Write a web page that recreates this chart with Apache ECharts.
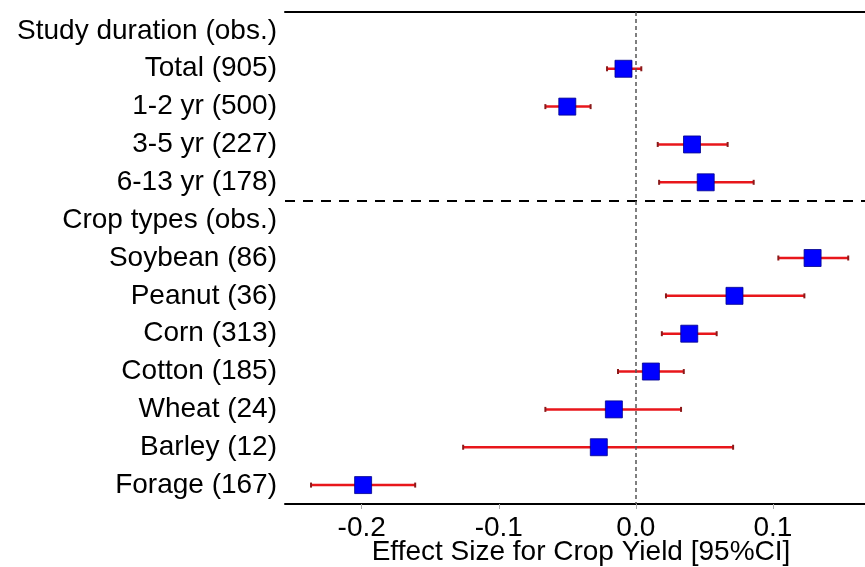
<!DOCTYPE html>
<html>
<head>
<meta charset="utf-8">
<script src="https://cdn.jsdelivr.net/npm/echarts@6/dist/echarts.min.js"></script>
<style>
  html, body { margin: 0; padding: 0; background: #fff; }
  #chart { width: 865px; height: 567px; }
</style>
</head>
<body>
<div id="chart"></div>
<script>
// rows top to bottom; header rows have no estimate
const labels = [
  'Study duration (obs.)', 'Total (905)', '1-2 yr (500)', '3-5 yr (227)', '6-13 yr (178)',
  'Crop types (obs.)', 'Soybean (86)', 'Peanut (36)', 'Corn (313)', 'Cotton (185)',
  'Wheat (24)', 'Barley (12)', 'Forage (167)'
]
const est = [null, -0.009, -0.050, 0.041, 0.051, null, 0.129, 0.072, 0.039, 0.011, -0.016, -0.027, -0.199]
const lo  = [null, -0.021, -0.066, 0.016, 0.017, null, 0.104, 0.022, 0.019, -0.013, -0.066, -0.126, -0.237]
const hi  = [null, 0.004, -0.033, 0.067, 0.086, null, 0.155, 0.123, 0.059, 0.035, 0.033, 0.071, -0.161]
const groupBreak = 5 // separator between the two groups

const font = 'Liberation Sans'

const ciData = []
const ptData = []
labels.forEach((l, i) => {
  if (est[i] === null) return
  ciData.push([lo[i], hi[i], i])
  ptData.push([est[i], i])
})

const chart = echarts.init(document.getElementById('chart'))

chart.setOption({
  animation: false,
  grid: { left: 285, right: -12, top: 12, height: 492, outerBoundsMode: 'none', containLabel: false },
  xAxis: [
    {
      type: 'value',
      min: -0.256,
      max: 0.176,
      splitLine: { show: false },
      axisLine: { show: true, onZero: false, lineStyle: { color: '#000', width: 2 } },
      axisTick: { show: true, length: 5, lineStyle: { color: '#aaa' } },
      axisLabel: {
        showMinLabel: false,
        showMaxLabel: false,
        margin: 10,
        color: '#000',
        fontFamily: font,
        fontSize: 28,
        formatter: v => v.toFixed(1)
      },
      name: 'Effect Size for Crop Yield [95%CI]',
      nameLocation: 'middle',
      nameMoveOverlap: false,
      nameGap: 34,
      nameTextStyle: { color: '#000', fontFamily: font, fontSize: 28 }
    },
    {
      type: 'value',
      position: 'top',
      min: -0.256,
      max: 0.176,
      splitLine: { show: false },
      axisLine: { show: true, onZero: false, lineStyle: { color: '#000', width: 2 } },
      axisTick: { show: false },
      axisLabel: { show: false }
    }
  ],
  yAxis: [
    {
      type: 'category',
      data: labels,
      inverse: true,
      axisLine: { show: false },
      axisTick: { show: false },
      splitLine: { show: false },
      axisLabel: { color: '#000', fontFamily: font, fontSize: 28, margin: 8 }
    },
    {
      type: 'value',
      min: 0,
      max: labels.length,
      inverse: true,
      show: false
    }
  ],
  series: [
    {
      // group separator
      type: 'line',
      yAxisIndex: 1,
      data: [],
      markLine: {
        silent: true,
        symbol: 'none',
        label: { show: false },
        lineStyle: { color: '#000', width: 2, type: [10, 8] },
        data: [{ yAxis: groupBreak }]
      }
    },
    {
      // 95% CI whiskers
      type: 'custom',
      data: ciData,
      encode: { x: [0, 1], y: 2 },
      z: 3,
      renderItem: (params, api) => {
        const a = api.coord([api.value(0), api.value(2)])
        const b = api.coord([api.value(1), api.value(2)])
        const cap = 2.5
        return {
          type: 'group',
          children: [
            {
              type: 'line',
              shape: { x1: a[0], y1: a[1], x2: b[0], y2: b[1] },
              style: { stroke: '#e8161b', lineWidth: 2.5 }
            },
            {
              type: 'line',
              shape: { x1: a[0], y1: a[1] - cap, x2: a[0], y2: a[1] + cap },
              style: { stroke: '#8b1a1a', lineWidth: 2 }
            },
            {
              type: 'line',
              shape: { x1: b[0], y1: b[1] - cap, x2: b[0], y2: b[1] + cap },
              style: { stroke: '#8b1a1a', lineWidth: 2 }
            }
          ]
        }
      }
    },
    {
      type: 'scatter',
      data: ptData,
      symbol: 'rect',
      symbolSize: 17,
      z: 4,
      itemStyle: { color: '#0000ff', borderColor: '#00008b', borderWidth: 0.8, opacity: 1 },
      markLine: {
        silent: true,
        symbol: 'none',
        label: { show: false },
        lineStyle: { color: '#555', width: 1.5, type: [4, 3] },
        data: [{ xAxis: 0 }]
      }
    }
  ]
})
</script>
</body>
</html>
